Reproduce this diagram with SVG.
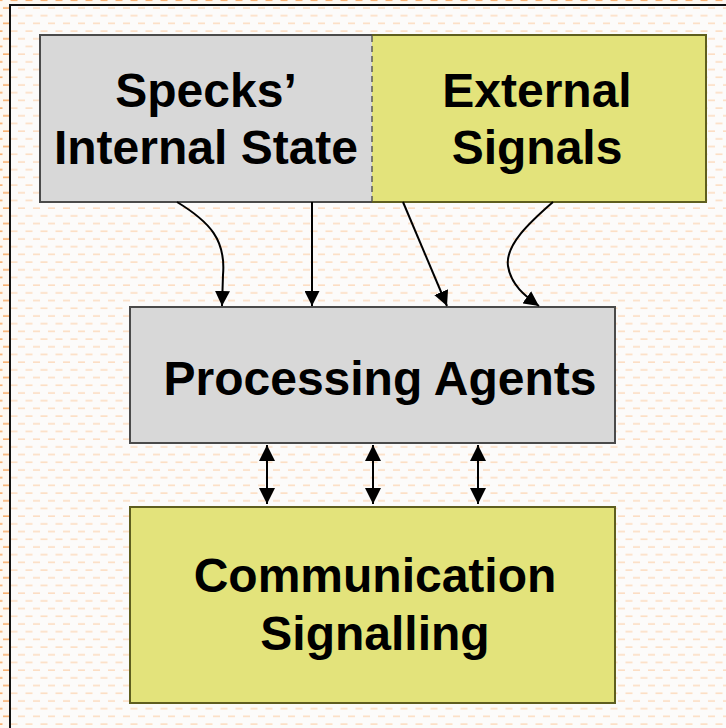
<svg xmlns="http://www.w3.org/2000/svg" width="726" height="728" viewBox="0 0 726 728">
<defs>
<pattern id="bg" x="0" y="4" width="15" height="15.4" patternUnits="userSpaceOnUse">
<rect width="15" height="15.4" fill="#fcfbfa"/>
<line x1="3" y1="4" x2="10" y2="4" stroke="#fcdcbf" stroke-width="1.5"/>
<line x1="10.5" y1="11.7" x2="15" y2="11.7" stroke="#fcdcbf" stroke-width="1.5"/>
<line x1="0" y1="11.7" x2="2.5" y2="11.7" stroke="#fcdcbf" stroke-width="1.5"/>
</pattern>
<pattern id="bg2" x="0" y="4" width="15" height="15.4" patternUnits="userSpaceOnUse">
<rect width="15" height="15.4" fill="#fdf8f2"/>
<line x1="3" y1="4" x2="10" y2="4" stroke="#f8b070" stroke-width="1.6"/>
<line x1="10.5" y1="11.7" x2="15" y2="11.7" stroke="#f8b070" stroke-width="1.6"/>
<line x1="0" y1="11.7" x2="2.5" y2="11.7" stroke="#f8b070" stroke-width="1.6"/>
</pattern>
<marker id="ah" viewBox="0 0 10 10" refX="10" refY="5" markerWidth="15" markerHeight="15" markerUnits="userSpaceOnUse" orient="auto-start-reverse">
<path d="M0,0 L10,5 L0,10 Z" fill="#000"/>
</marker>
<marker id="ah2" viewBox="0 0 10 10" refX="10" refY="5" markerWidth="16" markerHeight="16" markerUnits="userSpaceOnUse" orient="auto-start-reverse">
<path d="M0,0 L10,5 L0,10 Z" fill="#000"/>
</marker>
</defs>
<style>
text { font-family: "Liberation Sans", Arial, sans-serif; font-weight: bold; font-size: 48px; fill: #000; text-anchor: middle; }
.gray { fill: #d8d8d8; stroke: #4a4a4a; stroke-width: 2; }
.yel { fill: #e3e37b; stroke: #5e5e1e; stroke-width: 2; }
.conn { fill: none; stroke: #000; stroke-width: 2; }
</style>
<rect x="0" y="0" width="726" height="728" fill="url(#bg2)"/>
<rect x="10" y="5" width="716" height="723" fill="url(#bg)"/>
<path d="M10,728 L10,5 L726,5" fill="none" stroke="#111" stroke-width="2"/>

<g id="top-box">
<g id="internal-state">
<rect x="40" y="35" width="332" height="167" fill="#d8d8d8"/>
<path d="M372,35 L40,35 L40,202 L372,202" fill="none" stroke="#4a4a4a" stroke-width="2"/>
<text x="206" y="107">Specks’</text>
<text x="206" y="164">Internal State</text>
</g>
<g id="external-signals">
<rect x="372" y="35" width="334" height="167" fill="#e3e37b"/>
<path d="M372,35 L706,35 L706,202 L372,202" fill="none" stroke="#5e5e1e" stroke-width="2"/>
<text x="537" y="107">External</text>
<text x="537" y="164">Signals</text>
</g>
<line x1="372" y1="36" x2="372" y2="201" stroke="#5a5a5a" stroke-width="1.5" stroke-dasharray="6,4"/>
</g>

<g id="processing-agents">
<rect x="130" y="307" width="485" height="136" class="gray"/>
<text x="380" y="395">Processing Agents</text>
</g>

<g id="communication-signalling">
<rect x="130" y="507" width="485" height="196" class="yel"/>
<text x="375" y="592">Communication</text>
<text x="375" y="650">Signalling</text>
</g>

<g id="connectors">
<path d="M177,202 C210,222 226,240 223,275 L222,306" class="conn" marker-end="url(#ah)"/>
<path d="M312,202 L312,306" class="conn" marker-end="url(#ah)"/>
<path d="M403,202 L447,306" class="conn" marker-end="url(#ah)"/>
<path d="M553,202 C530,222 505,245 508,266 C511,285 525,296 539,306" class="conn" marker-end="url(#ah)"/>
<path d="M267,445 L267,504" class="conn" marker-start="url(#ah2)" marker-end="url(#ah2)"/>
<path d="M373,445 L373,504" class="conn" marker-start="url(#ah2)" marker-end="url(#ah2)"/>
<path d="M478,445 L478,504" class="conn" marker-start="url(#ah2)" marker-end="url(#ah2)"/>
</g>
</svg>
